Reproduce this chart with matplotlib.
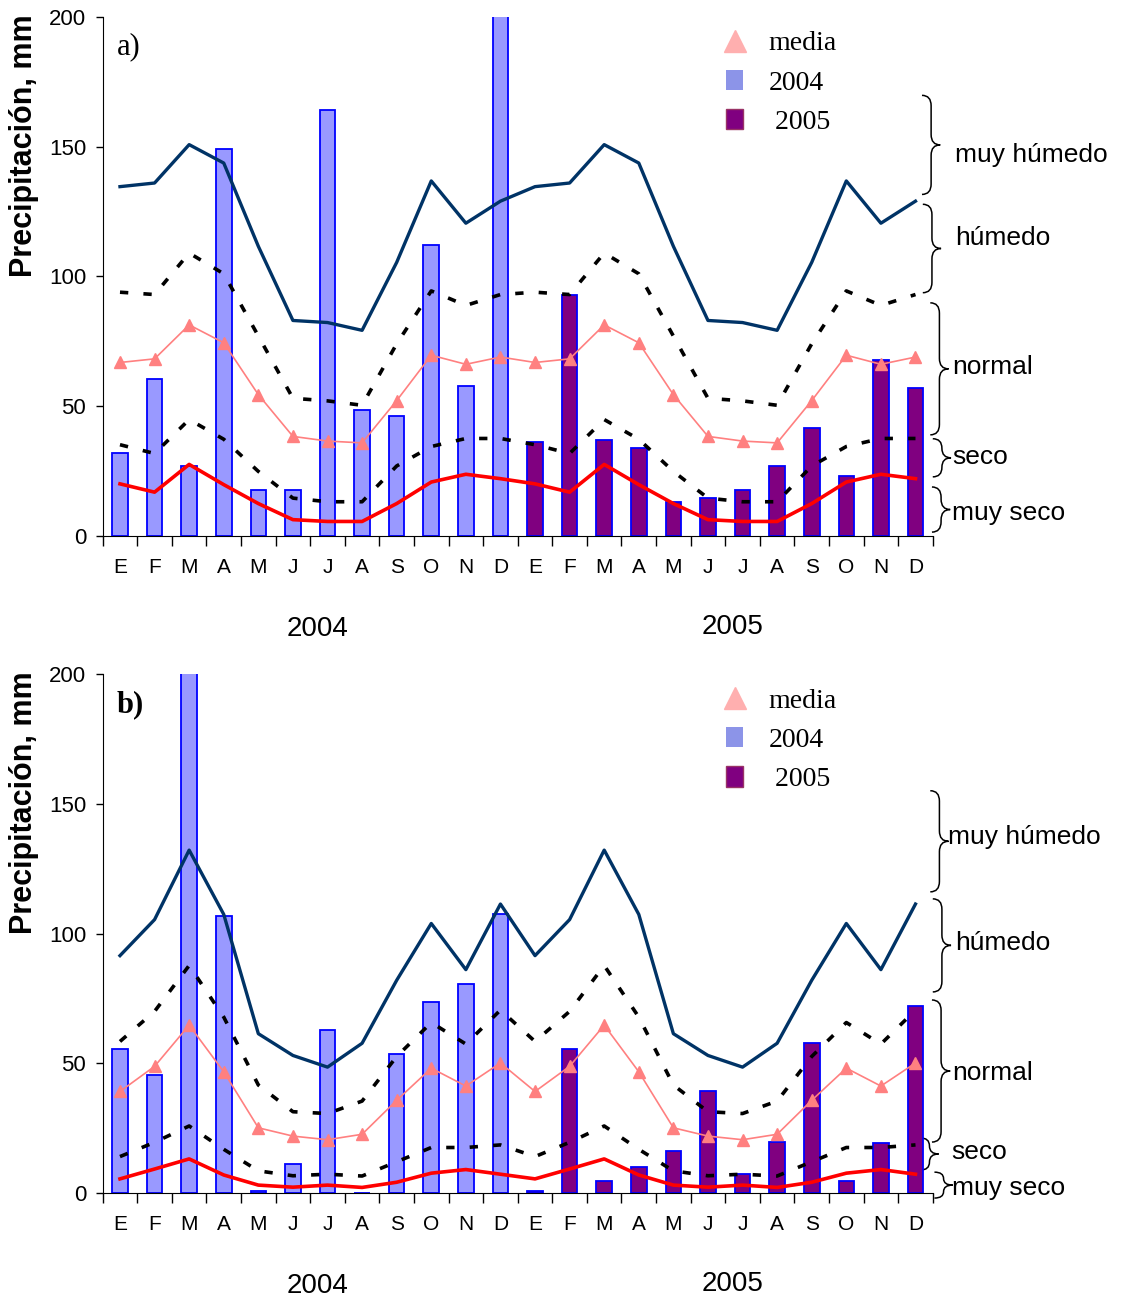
import numpy as np
import matplotlib
matplotlib.use('Agg')
import matplotlib.pyplot as plt
from matplotlib.path import Path
from matplotlib.patches import PathPatch, Patch
from matplotlib.lines import Line2D
from matplotlib.transforms import blended_transform_factory

plt.rcParams['font.family'] = ['Liberation Sans', 'DejaVu Sans']

months = ['E', 'F', 'M', 'A', 'M', 'J', 'J', 'A', 'S', 'O', 'N', 'D']
xlabels = months + months

# ---- panel a) ----
rain04_a = [32, 60.5, 27, 149, 17.5, 17.5, 164, 48.5, 46, 112, 57.7, 230]
rain05_a = [36, 93, 37, 33.7, 13, 14.7, 17.6, 27, 41.6, 23, 67.8, 57]
muyhum_a = [134.6, 136, 150.8, 143.7, 111.6, 83, 82.2, 79.2, 105.4, 136.8, 120.5, 129]
hum_a = [93.9, 93, 109, 101, 77, 53, 52, 50.3, 74, 94.4, 88.8, 93]
media_a = [66.8, 68.2, 81.3, 74.4, 54.4, 38.3, 36.5, 35.8, 52.1, 69.6, 66.1, 68.9]
seco_a = [35.1, 31.7, 44.8, 37.2, 24.8, 14.5, 13.1, 13.1, 26.9, 34.4, 37.5, 37.5]
muyseco_a = [20, 16.8, 27.5, 19.7, 12.4, 6.2, 5.5, 5.5, 12.4, 20.7, 23.7, 22]

# ---- panel b) ----
rain04_b = [55.4, 45.3, 230, 106.9, 0.7, 11.3, 63, 0, 53.7, 73.7, 80.7, 107.7]
rain05_b = [0.7, 55.4, 4.4, 9.9, 16.1, 39.1, 7.4, 19.8, 57.7, 4.4, 19.1, 72.2]
muyhum_b = [91.5, 105.4, 132.2, 107.4, 61.4, 53, 48.5, 57.7, 82, 103.9, 86.1, 111.4]
hum_b = [58.4, 70, 87.7, 67.8, 41.6, 31.3, 30.6, 35.4, 52.6, 65.7, 57.4, 70.5]
media_b = [39.1, 48.8, 64.7, 46.7, 25.1, 21.9, 20.5, 22.6, 35.7, 48.1, 41.2, 50.1]
seco_b = [14, 19.5, 25.8, 16.8, 8.5, 6.6, 7.2, 6.5, 12, 17.5, 17.5, 18.5]
muyseco_b = [5.4, 9.2, 13.1, 6.9, 3, 2.2, 3, 2.1, 4.1, 7.6, 9, 7.2]

# class ranges marked with braces: label, low, high
clases_a = [('muy húmedo', 131.6, 169.8), ('húmedo', 93.7, 127.8), ('normal', 38.9, 89.8),
            ('seco', 22.7, 37.4), ('muy seco', 1.4, 18.8)]
clases_b = [('muy húmedo', 116.1, 155.1), ('húmedo', 77.5, 113.4), ('normal', 19.6, 74.4),
            ('seco', 8.8, 21.2), ('muy seco', -2, 8)]


def brace(ax, x0, w, y0, y1, r=4.0):
    tr = blended_transform_factory(ax.transAxes, ax.transData)
    r = min(r, (y1 - y0) / 4.0)
    xm = x0 + w / 2.0
    xr = x0 + w
    ym = (y0 + y1) / 2.0
    verts = [(x0, y1), (xm, y1), (xm, y1 - r), (xm, ym + r), (xm, ym), (xr, ym),
             (xm, ym), (xm, ym - r), (xm, y0 + r), (xm, y0), (x0, y0)]
    codes = [Path.MOVETO, Path.CURVE3, Path.CURVE3, Path.LINETO, Path.CURVE3, Path.CURVE3,
             Path.CURVE3, Path.CURVE3, Path.LINETO, Path.CURVE3, Path.CURVE3]
    ax.add_patch(PathPatch(Path(verts, codes), fc='none', ec='black', lw=1.1,
                           transform=tr, clip_on=False))


def panel(ax, rain04, rain05, muyhum, hum, media, seco, muyseco, clases, bx, tx, ty, tag, bold):
    x = np.arange(24)
    rain = list(rain04) + list(rain05)
    colors = ['#9999FF'] * 12 + ['#800080'] * 12
    ax.bar(x, rain, width=0.45, color=colors, edgecolor='#0000FF', linewidth=1.3, zorder=2)

    ax.plot(x, muyhum + muyhum, color='#003366', lw=2.4, zorder=3)
    ax.plot(x, hum + hum, color='black', lw=2.6, dashes=(2.3, 4.2), zorder=3)
    ax.plot(x, media + media, color='#FF8080', lw=1.2, marker='^', markersize=9,
            markeredgecolor='#FF8080', zorder=4)
    ax.plot(x, seco + seco, color='black', lw=2.6, dashes=(2.3, 4.2), zorder=3)
    ax.plot(x, muyseco + muyseco, color='#FF0000', lw=2.6, zorder=3)

    ax.set_xlim(-0.5, 23.5)
    ax.set_ylim(0, 200)
    ax.set_yticks([0, 50, 100, 150, 200])
    ax.set_xticks(x)
    ax.set_xticklabels(xlabels)
    ax.set_xticks(np.arange(-0.5, 24, 1), minor=True)
    ax.tick_params(axis='x', which='major', length=0, labelsize=15, pad=16)
    ax.tick_params(axis='x', which='minor', length=7, width=1, direction='out')
    ax.tick_params(axis='y', length=5, width=1, labelsize=16, direction='out', pad=7)
    for s in ['top', 'right']:
        ax.spines[s].set_visible(False)

    ax.text(-0.095, 1.005, 'Precipitación, mm', transform=ax.transAxes, rotation=90,
            ha='center', va='top', fontsize=22, fontweight='bold')
    ax.text(0.017, 0.97, tag, transform=ax.transAxes, ha='left', va='top', fontsize=22,
            family='Liberation Serif', fontweight='bold' if bold else 'normal')

    trx = blended_transform_factory(ax.transData, ax.transAxes)
    ax.text(5.7, -0.18, '2004', transform=trx, ha='center', va='center', fontsize=20)
    ax.text(17.7, -0.175, '2005', transform=trx, ha='center', va='center', fontsize=20)

    tr = blended_transform_factory(ax.transAxes, ax.transData)
    for (lab, lo, hi), b, t, yy in zip(clases, bx, tx, ty):
        brace(ax, b, 0.022, lo, hi)
        ax.text(t, yy, lab, transform=tr, ha='left', va='center', fontsize=19, clip_on=False)

    handles = [Line2D([], [], ls='none', marker='^', markersize=16, color='#FFAFAF'),
               Patch(facecolor='#8C94E8', edgecolor='none'),
               Patch(facecolor='#800080', edgecolor='#993366')]
    ax.legend(handles, ['media', '2004', ' 2005'], loc='upper left', bbox_to_anchor=(0.721, 1.022),
              frameon=False, prop={'family': 'Liberation Serif', 'size': 20},
              handlelength=0.62, handleheight=0.75, handletextpad=0.9, labelspacing=0.48)


fig = plt.figure(figsize=(11.26, 13), dpi=100)
ax1 = fig.add_axes([0.0912, 0.5879, 0.7372, 0.399])
ax2 = fig.add_axes([0.0912, 0.0824, 0.7372, 0.3989])

panel(ax1, rain04_a, rain05_a, muyhum_a, hum_a, media_a, seco_a, muyseco_a, clases_a,
      [0.987, 0.988, 0.997, 1.0, 0.999], [1.027, 1.027, 1.023, 1.024, 1.023],
      [146.8, 114.8, 65.1, 30.4, 8.8], 'a)', False)
panel(ax2, rain04_b, rain05_b, muyhum_b, hum_b, media_b, seco_b, muyseco_b, clases_b,
      [0.997, 1.0, 0.999, 0.985, 1.002], [1.018, 1.027, 1.024, 1.022, 1.023],
      [137.3, 96.4, 46.2, 15.8, 1.9], 'b)', True)

plt.savefig('out.png', dpi=100)
